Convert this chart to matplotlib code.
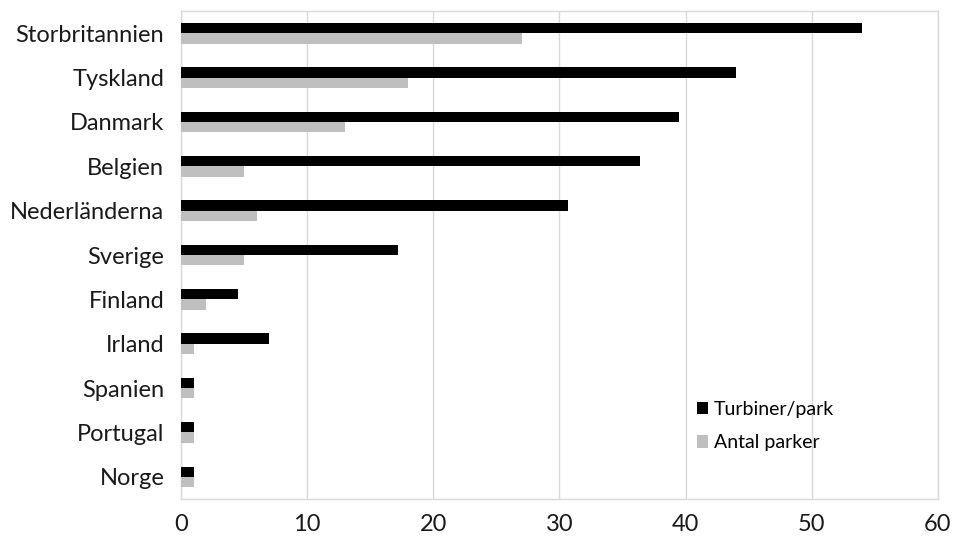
import numpy as np
import matplotlib.pyplot as plt

countries = ["Storbritannien", "Tyskland", "Danmark", "Belgien", "Nederländerna",
             "Sverige", "Finland", "Irland", "Spanien", "Portugal", "Norge"]
turbiner_per_park = [54, 44, 39.5, 36.4, 30.7, 17.2, 4.5, 7, 1, 1, 1]
antal_parker = [27, 18, 13, 5, 6, 5, 2, 1, 1, 1, 1]

plt.rcParams['font.family'] = ['Lato', 'DejaVu Sans']

fig = plt.figure(figsize=(9.56, 5.41), dpi=100)
ax = fig.add_axes([0.1893, 0.0776, 0.7917, 0.902])

y = np.arange(len(countries))
h = 0.233
ax.barh(y - h / 2, turbiner_per_park, height=h, color="black", label="Turbiner/park", zorder=3)
ax.barh(y + h / 2, antal_parker, height=h, color="#bfbfbf", label="Antal parker", zorder=3)

ax.set_yticks(y)
ax.set_yticklabels(countries, fontsize=17, color="#1a1a1a")
ax.set_ylim(len(countries) - 0.5, -0.5)
ax.set_xlim(0, 60)
ax.set_xticks(np.arange(0, 61, 10))
ax.tick_params(axis="x", labelsize=17, colors="#1a1a1a", length=0, pad=11)
ax.tick_params(axis="y", length=0, pad=12)

ax.grid(axis="x", color="#d9d9d9", linewidth=1, zorder=0)
for s in ax.spines.values():
    s.set_color("#d9d9d9")
    s.set_linewidth(1)

ax.legend(loc="upper left", bbox_to_anchor=(0.671, 0.217), frameon=False,
          fontsize=14, handlelength=0.6, handleheight=0.6, handletextpad=0.3,
          labelspacing=0.85, borderaxespad=0)

fig.savefig("out.png", dpi=100)
